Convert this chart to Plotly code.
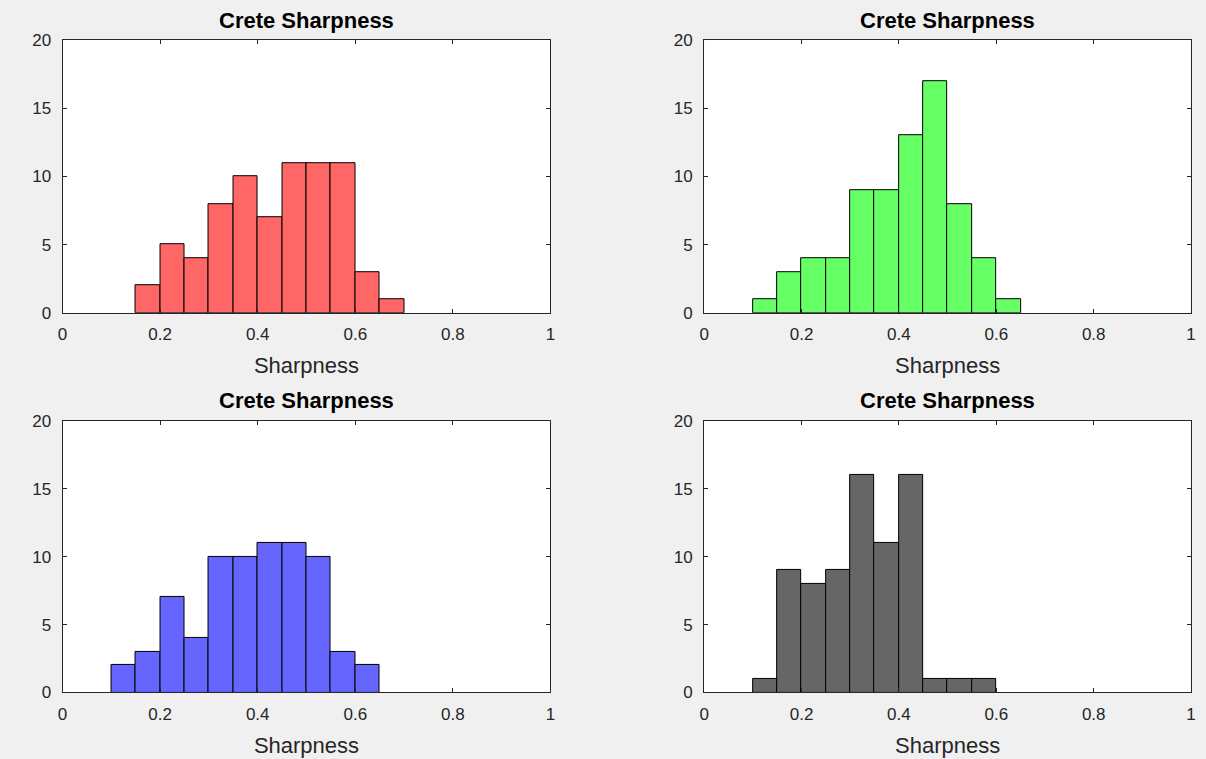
import plotly.graph_objects as go

# ---- data ----
bin_width = 0.05
red_left = [0.15, 0.20, 0.25, 0.30, 0.35, 0.40, 0.45, 0.50, 0.55, 0.60, 0.65]
red_counts = [2, 5, 4, 8, 10, 7, 11, 11, 11, 3, 1]

green_left = [0.10, 0.15, 0.20, 0.25, 0.30, 0.35, 0.40, 0.45, 0.50, 0.55, 0.60]
green_counts = [1, 3, 4, 4, 9, 9, 13, 17, 8, 4, 1]

blue_left = [0.10, 0.15, 0.20, 0.25, 0.30, 0.35, 0.40, 0.45, 0.50, 0.55, 0.60]
blue_counts = [2, 3, 7, 4, 10, 10, 11, 11, 10, 3, 2]

gray_left = [0.10, 0.15, 0.20, 0.25, 0.30, 0.35, 0.40, 0.45, 0.50, 0.55]
gray_counts = [1, 9, 8, 9, 16, 11, 16, 1, 1, 1]

panel_title = "Crete Sharpness"
x_label = "Sharpness"
x_ticks = [0, 0.2, 0.4, 0.6, 0.8, 1]
x_ticktext = ["0", "0.2", "0.4", "0.6", "0.8", "1"]
y_ticks = [0, 5, 10, 15, 20]

panels = [
    (red_left, red_counts, "#ff6666"),
    (green_left, green_counts, "#66ff66"),
    (blue_left, blue_counts, "#6666ff"),
    (gray_left, gray_counts, "#666666"),
]

W, H = 1206, 759
# axes boxes in figure pixels (left, right, top, bottom)
boxes = [(58, 550, 32, 311.5), (705, 1196, 32, 311.5),
         (58, 550, 422.5, 701), (705, 1196, 422.5, 701)]

fig = go.Figure()
axis_color = "#262626"
font_family = "Liberation Sans, Arial, Helvetica, sans-serif"

for i, ((left, counts, color), (l, r, t, b)) in enumerate(zip(panels, boxes)):
    n = "" if i == 0 else str(i + 1)
    centers = [v + bin_width / 2 for v in left]
    fig.add_trace(go.Bar(
        x=centers, y=counts, width=bin_width,
        marker=dict(color=color, line=dict(color="black", width=1)),
        xaxis="x" + n, yaxis="y" + n, showlegend=False, hoverinfo="skip",
    ))
    xd = [l / W, r / W]
    yd = [1 - b / H, 1 - t / H]
    common = dict(
        showgrid=False, zeroline=False, showline=True, linecolor=axis_color,
        linewidth=1, mirror="ticks", ticks="inside", ticklen=4,
        tickcolor=axis_color, tickwidth=1,
        tickfont=dict(family=font_family, size=17, color=axis_color),
    )
    fig.layout["xaxis" + n] = dict(
        domain=xd, range=[0, 1], tickvals=x_ticks, ticktext=x_ticktext,
        anchor="y" + n, ticklabelstandoff=6,
        title=dict(text=x_label, standoff=14,
                   font=dict(family=font_family, size=22, color=axis_color)),
        **common)
    fig.layout["yaxis" + n] = dict(
        domain=yd, range=[0, 20], tickvals=y_ticks,
        anchor="x" + n, ticklabelstandoff=7, **common)
    fig.add_annotation(
        text="<b>" + panel_title + "</b>", xref="paper", yref="paper",
        x=(l + r) / 2 / W, y=1 - (t - 20.5) / H, xanchor="center", yanchor="middle",
        showarrow=False, font=dict(family=font_family, size=22, color="black"))

fig.update_layout(
    autosize=True, margin=dict(l=0, r=0, t=0, b=0),
    paper_bgcolor="#f0f0f0", plot_bgcolor="white", bargap=0,
    font=dict(family=font_family),
)

fig.write_html(
    "out.html",
    default_width="100vw", default_height="100vh",
    config={"displayModeBar": False, "responsive": True},
    post_script="document.body.style.margin='0';document.body.style.overflow='hidden';",
)
